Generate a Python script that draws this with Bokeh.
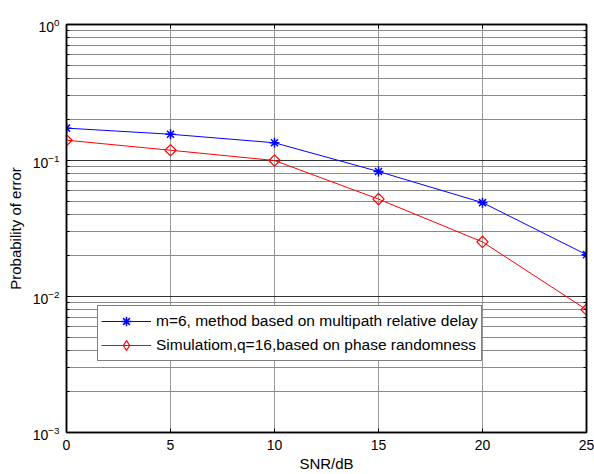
import numpy as np
from bokeh.plotting import figure
from bokeh.models import FixedTicker, Range1d, Legend, LegendItem, LogAxis, LinearAxis
from bokeh.embed import file_html
from bokeh.resources import INLINE

snr = [0, 5, 10, 15, 20, 25]
blue_vals = [0.173, 0.156, 0.135, 0.083, 0.049, 0.0203]
red_vals = [0.141, 0.119, 0.100, 0.052, 0.0252, 0.0080]
blue_label = "m=6, method based on multipath relative delay"
red_label = "Simulatiom,q=16,based on phase randomness"
x_ticks = [0, 5, 10, 15, 20, 25]
y_major = [1e-3, 1e-2, 1e-1, 1e0]
y_minor = [m * d for d in [1e-3, 1e-2, 1e-1] for m in range(2, 10)]

FONT = "Liberation Sans"

p = figure(width=594, height=474, y_axis_type="log", output_backend="svg",
           toolbar_location=None, x_range=Range1d(0, 25), y_range=Range1d(1e-3, 1e0),
           min_border_left=66, min_border_right=8, min_border_top=24, min_border_bottom=41)

p.xaxis.ticker = FixedTicker(ticks=x_ticks)
p.yaxis.ticker = FixedTicker(ticks=y_major, minor_ticks=y_minor)
p.ygrid.ticker = FixedTicker(ticks=y_major, minor_ticks=y_minor)
p.xgrid.ticker = FixedTicker(ticks=x_ticks)

for ax in (p.xaxis[0], p.yaxis[0]):
    ax.axis_line_color = "black"
    ax.axis_line_width = 1.5
    ax.major_tick_in = 4
    ax.major_tick_out = 0
    ax.minor_tick_in = 3
    ax.minor_tick_out = 0
    ax.major_label_text_font = FONT
    ax.major_label_text_font_size = "14px"
    ax.major_label_text_color = "black"
    ax.axis_label_text_font = FONT
    ax.axis_label_text_font_size = "15px"
    ax.axis_label_text_font_style = "normal"
    ax.axis_label_text_color = "black"

p.xaxis.axis_label = "SNR/dB"
p.yaxis.axis_label = "Probability of error"
p.xaxis.major_label_standoff = 7
p.xaxis.axis_label_standoff = 2
p.yaxis.major_label_standoff = 7
p.yaxis.axis_label_standoff = 6

# mirrored tick marks on the right and top edges (no labels)
right_ax = LogAxis(ticker=FixedTicker(ticks=y_major, minor_ticks=y_minor),
                   major_label_overrides={t: "" for t in y_major},
                   major_tick_in=4, major_tick_out=0, minor_tick_in=3, minor_tick_out=0,
                   major_label_standoff=0, axis_line_color="black", axis_line_width=1.5)
p.add_layout(right_ax, "right")
top_ax = LinearAxis(ticker=FixedTicker(ticks=x_ticks),
                    major_label_overrides={t: "" for t in x_ticks},
                    major_tick_in=4, major_tick_out=0, minor_tick_in=0, minor_tick_out=0,
                    major_label_standoff=0, axis_line_color="black", axis_line_width=1.5)
p.add_layout(top_ax, "above")

p.outline_line_color = "black"
p.outline_line_width = 1.5
p.outline_line_alpha = 1.0

p.xgrid.grid_line_color = "#9a9a9a"
p.xgrid.grid_line_width = 1
p.ygrid.grid_line_color = "#333333"
p.ygrid.grid_line_width = 1
p.ygrid.minor_grid_line_color = "#8a8a8a"
p.ygrid.minor_grid_line_width = 1

bl = p.line(snr, blue_vals, line_color="blue", line_width=1)
bm = p.scatter(snr, blue_vals, marker="asterisk", size=10, line_color="blue", line_width=1.5)
rl = p.line(snr, red_vals, line_color="red", line_width=1)
rm = p.scatter(snr, red_vals, marker="square", angle=np.pi / 4, size=8,
               line_color="red", fill_color=None, line_width=1.2)
# legend-only marker (zero size on the plot), so the legend shows an upright diamond
rleg = p.scatter(snr, red_vals, marker="diamond", size=0,
                 line_color="red", fill_color=None, line_width=1.2)

legend = Legend(items=[LegendItem(label=blue_label, renderers=[bl, bm]),
                       LegendItem(label=red_label, renderers=[rl, rleg])],
                location=(31, 71))
legend.border_line_color = "black"
legend.border_line_width = 1.2
legend.label_text_font = FONT
legend.label_text_font_size = "15.5px"
legend.label_text_color = "black"
legend.glyph_width = 50
legend.glyph_height = 24
legend.label_height = 20
legend.label_standoff = 5
legend.spacing = -3
legend.padding = 3
legend.margin = 0
legend.background_fill_alpha = 1.0
p.add_layout(legend, "center")

open("out.html", "w").write(file_html(p, INLINE))
